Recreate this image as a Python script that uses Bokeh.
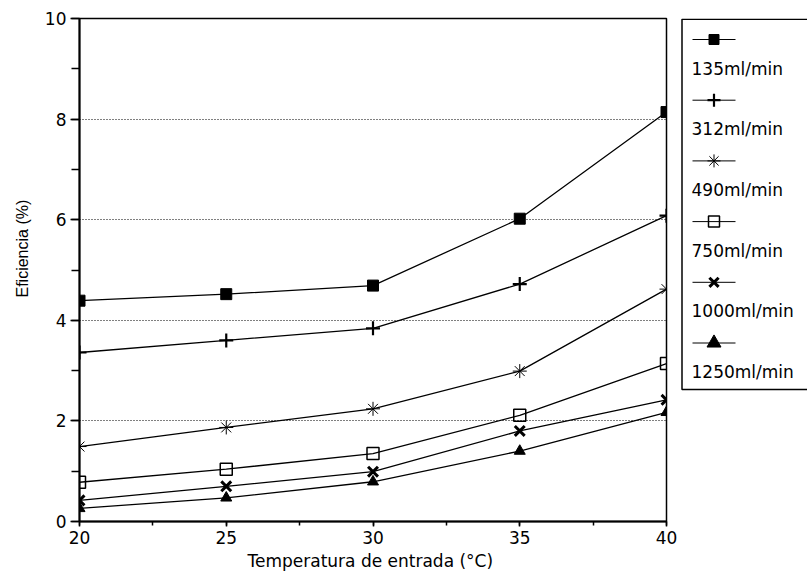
from bokeh.plotting import figure
from bokeh.models import Range1d, SingleIntervalTicker, Title
from bokeh.layouts import row
from bokeh.embed import file_html
from bokeh.resources import INLINE
from bokeh.core.properties import value

# ---- data ----
temperature = [20, 25, 30, 35, 40]
series_names = ["135ml/min", "312ml/min", "490ml/min", "750ml/min", "1000ml/min", "1250ml/min"]
eff_135 = [4.39, 4.52, 4.69, 6.02, 8.14]
eff_312 = [3.36, 3.60, 3.84, 4.72, 6.08]
eff_490 = [1.49, 1.87, 2.24, 2.99, 4.62]
eff_750 = [0.78, 1.04, 1.35, 2.11, 3.14]
eff_1000 = [0.42, 0.70, 0.99, 1.80, 2.42]
eff_1250 = [0.26, 0.47, 0.79, 1.40, 2.17]
series_values = [eff_135, eff_312, eff_490, eff_750, eff_1000, eff_1250]

# ---- marker styles ----
styles = [
    dict(marker="square", size=11, fill_color="black", line_width=1),
    dict(marker="cross", size=14, fill_color=None, line_width=2.2),
    dict(marker="asterisk", size=14, fill_color=None, line_width=1),
    dict(marker="square", size=12, fill_color=None, line_width=1.5),
    dict(marker="x", size=14, fill_color=None, line_width=3),
    dict(marker="triangle", size=11, fill_color="black", line_width=1),
]

FONT = "DejaVu Sans"

p = figure(width=680, height=577, x_range=Range1d(20, 40), y_range=Range1d(0, 10),
           output_backend="svg", toolbar_location=None,
           min_border_left=79, min_border_right=14, min_border_top=18, min_border_bottom=56)
p.background_fill_color = "white"
p.border_fill_color = "white"
p.outline_line_color = "black"
p.outline_line_width = 1.5
p.outline_line_alpha = 1

p.xaxis.ticker = SingleIntervalTicker(interval=5, num_minor_ticks=2)
p.yaxis.ticker = SingleIntervalTicker(interval=2, num_minor_ticks=2)
p.xgrid.visible = False
p.ygrid.grid_line_color = "black"
p.ygrid.grid_line_dash = "1 2"
p.ygrid.grid_line_width = 1.2
p.ygrid.grid_line_alpha = 1

for ax in (p.xaxis, p.yaxis):
    ax.axis_line_width = 2
    ax.axis_line_color = "black"
    ax.major_tick_line_color = "black"
    ax.minor_tick_line_color = "black"
    ax.major_tick_line_width = 1.5
    ax.minor_tick_line_width = 1.5
    ax.major_tick_in = 0
    ax.minor_tick_in = 0
    ax.major_label_text_font = FONT
    ax.major_label_text_font_size = "17px"
    ax.major_label_text_color = "black"
    ax.major_label_standoff = 4
    ax.axis_label_text_font_style = "normal"
    ax.axis_label_text_color = "black"

p.yaxis.major_tick_out = 9
p.yaxis.minor_tick_out = 8
p.xaxis.major_tick_out = 5
p.xaxis.minor_tick_out = 4

p.xaxis.axis_label = "Temperatura de  entrada (°C)"
p.xaxis.axis_label_text_font = FONT
p.xaxis.axis_label_text_font_size = "17px"
p.xaxis.axis_label_standoff = 4

# y-axis title as a left-side Title so it can sit slightly above the frame centre
ytitle = Title(text="Eficiencia (%)", align="left", offset=224, standoff=21,
               text_font="Liberation Sans", text_font_size="16px",
               text_font_style="normal", text_color="black")
p.add_layout(ytitle, "left")

for vals, st in zip(series_values, styles):
    p.line(temperature, vals, line_color="black", line_width=1.3)
    p.scatter(temperature, vals, marker=st["marker"], size=st["size"],
              line_color="black", fill_color=st["fill_color"], line_width=st["line_width"])

# ---- legend panel (separate figure; its frame is aligned with the main frame, 18..521 px) ----
lg = figure(width=127, height=577, x_range=Range1d(0, 127), y_range=Range1d(521, 18),
            output_backend="svg", toolbar_location=None,
            min_border_left=0, min_border_right=0, min_border_top=18, min_border_bottom=56)
lg.axis.visible = False
lg.grid.visible = False
lg.outline_line_color = None
lg.background_fill_color = "white"
lg.border_fill_color = "white"
lg.quad(left=1.5, right=200, top=18.8, bottom=389, fill_color=None, line_color="black", line_width=1.5)

step = 60.7
for i, (name, st) in enumerate(zip(series_names, styles)):
    ym = 39 + i * step
    yl = 68 + i * step
    lg.line([12, 55], [ym, ym], line_color="black", line_width=1)
    lsize = st["size"] + (3 if st["marker"] == "triangle" else -1)
    lg.scatter([33.5], [ym], marker=st["marker"], size=lsize,
               line_color="black", fill_color=st["fill_color"], line_width=st["line_width"])
    lg.text([11], [yl], text=[name], text_font=value(FONT), text_font_size="17px",
            text_baseline="middle", text_align="left", text_color="black")

layout = row(p, lg)
open("out.html", "w").write(file_html(layout, INLINE))
